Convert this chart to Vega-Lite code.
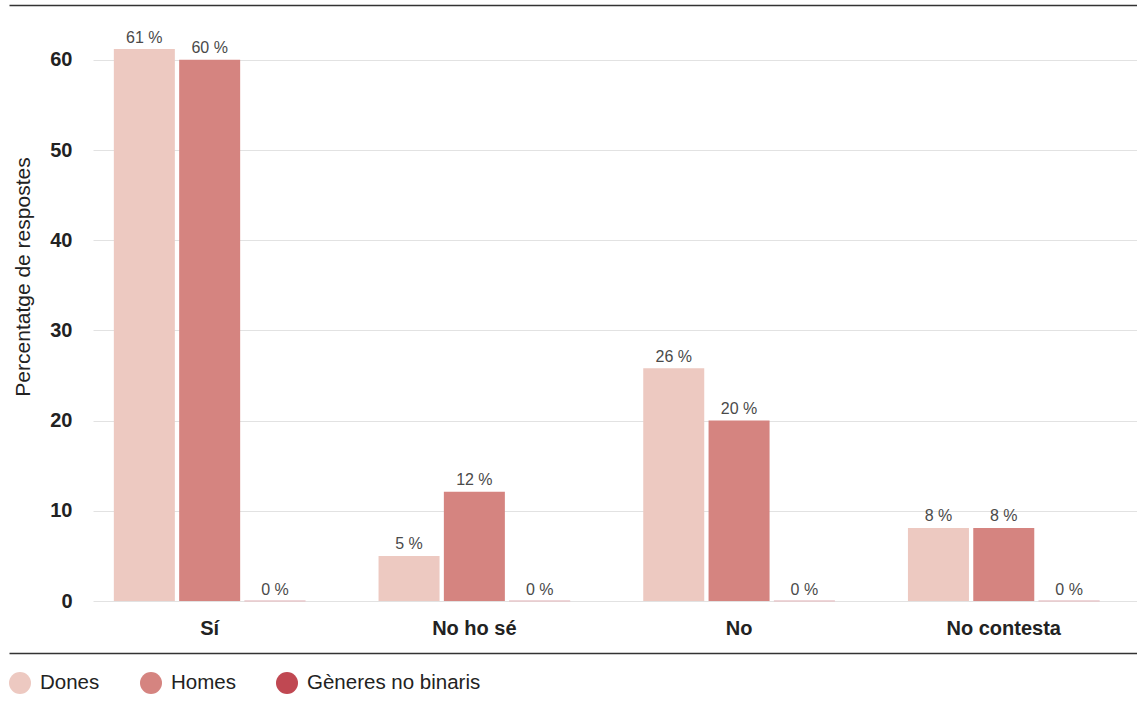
{
  "$schema": "https://vega.github.io/schema/vega-lite/v6.json",
  "width": 1128,
  "height": 596,
  "autosize": {"type": "none"},
  "padding": {"left": 9, "top": 5, "right": 0, "bottom": 112},
  "background": "white",
  "data": {
    "values": [
      {"resposta": "Sí", "genere": "Dones", "valor": 61.2, "etiqueta": "61 %"},
      {"resposta": "Sí", "genere": "Homes", "valor": 60.0, "etiqueta": "60 %"},
      {"resposta": "Sí", "genere": "Gèneres no binaris", "valor": 0, "etiqueta": "0 %"},
      {"resposta": "No ho sé", "genere": "Dones", "valor": 5.0, "etiqueta": "5 %"},
      {"resposta": "No ho sé", "genere": "Homes", "valor": 12.1, "etiqueta": "12 %"},
      {"resposta": "No ho sé", "genere": "Gèneres no binaris", "valor": 0, "etiqueta": "0 %"},
      {"resposta": "No", "genere": "Dones", "valor": 25.8, "etiqueta": "26 %"},
      {"resposta": "No", "genere": "Homes", "valor": 20.0, "etiqueta": "20 %"},
      {"resposta": "No", "genere": "Gèneres no binaris", "valor": 0, "etiqueta": "0 %"},
      {"resposta": "No contesta", "genere": "Dones", "valor": 8.1, "etiqueta": "8 %"},
      {"resposta": "No contesta", "genere": "Homes", "valor": 8.1, "etiqueta": "8 %"},
      {"resposta": "No contesta", "genere": "Gèneres no binaris", "valor": 0, "etiqueta": "0 %"}
    ]
  },
  "resolve": {"axis": {"x": "independent"}},
  "layer": [
    {
      "mark": {"type": "bar"},
      "encoding": {
        "x": {
          "field": "resposta",
          "type": "nominal",
          "sort": ["Sí", "No ho sé", "No", "No contesta"],
          "scale": {"paddingInner": 0.276, "paddingOuter": 0.2687, "align": 0.737},
          "axis": {
            "orient": "bottom",
            "title": null,
            "domain": false,
            "ticks": false,
            "grid": false,
            "labelAngle": 0,
            "labelPadding": 17,
            "labelFont": "Liberation Sans",
            "labelFontSize": 20,
            "labelFontWeight": "bold",
            "labelColor": "#222222"
          }
        },
        "xOffset": {
          "field": "genere",
          "type": "nominal",
          "scale": {"domain": ["Dones", "Homes", "Gèneres no binaris"], "paddingInner": 0.066, "paddingOuter": 0}
        },
        "y": {
          "field": "valor",
          "type": "quantitative",
          "scale": {"domain": [0, 66.08], "nice": false, "zero": true},
          "axis": {
            "values": [0, 10, 20, 30, 40, 50, 60],
            "offset": -84,
            "domain": false,
            "grid": false,
            "ticks": true,
            "tickSize": -1044,
            "tickColor": "#e2e2e2",
            "tickWidth": 1,
            "labelPadding": 1065,
            "labelFont": "Liberation Sans",
            "labelFontSize": 20,
            "labelFontWeight": "bold",
            "labelColor": "#222222",
            "title": "Percentatge de respostes",
            "titleFont": "Liberation Sans",
            "titleFontSize": 21,
            "titleFontWeight": "normal",
            "titleColor": "#222222",
            "titleX": -60,
            "titleY": 271.5,
            "titleAngle": -90,
            "titleBaseline": "bottom",
            "titleAlign": "center"
          }
        },
        "color": {
          "field": "genere",
          "type": "nominal",
          "scale": {"domain": ["Dones", "Homes", "Gèneres no binaris"], "range": ["#edc9c1", "#d58480", "#c04852"]},
          "legend": {
            "orient": "none",
            "legendX": 0,
            "legendY": 667,
            "direction": "horizontal",
            "title": null,
            "symbolType": "circle",
            "symbolSize": 484,
            "symbolStrokeWidth": 0,
            "symbolOpacity": 1,
            "labelFont": "Liberation Sans",
            "labelFontSize": 20.5,
            "labelColor": "#222222",
            "labelLimit": 400,
            "labelOffset": 9,
            "columnPadding": 40,
            "padding": 0
          }
        }
      }
    },
    {
      "transform": [{"filter": "datum.valor == 0"}],
      "mark": {"type": "bar", "fill": "#ead2d4", "stroke": "#e8c7ca", "strokeWidth": 1},
      "encoding": {
        "x": {
          "field": "resposta",
          "type": "nominal",
          "sort": ["Sí", "No ho sé", "No", "No contesta"],
          "axis": {
            "orient": "top",
            "title": null,
            "labels": false,
            "ticks": false,
            "grid": false,
            "domain": true,
            "domainColor": "#333333",
            "domainWidth": 1.3
          }
        },
        "xOffset": {"field": "genere", "type": "nominal"},
        "y": {"field": "valor", "type": "quantitative"}
      }
    },
    {
      "mark": {"type": "text", "baseline": "alphabetic", "align": "center", "dy": -6.5, "font": "Liberation Sans", "fontSize": 16, "color": "#4a4a4a"},
      "encoding": {
        "x": {
          "field": "resposta",
          "type": "nominal",
          "sort": ["Sí", "No ho sé", "No", "No contesta"],
          "axis": {
            "orient": "bottom",
            "offset": 52,
            "title": null,
            "labels": false,
            "ticks": false,
            "grid": false,
            "domain": true,
            "domainColor": "#333333",
            "domainWidth": 1.3
          }
        },
        "xOffset": {"field": "genere", "type": "nominal"},
        "y": {"field": "valor", "type": "quantitative"},
        "text": {"field": "etiqueta", "type": "nominal"}
      }
    }
  ],
  "config": {
    "view": {"stroke": null},
    "font": "Liberation Sans"
  }
}
